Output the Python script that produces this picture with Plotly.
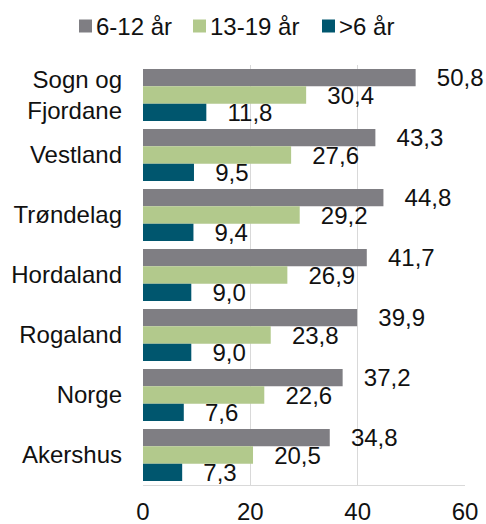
import plotly.graph_objects as go

categories = ["Sogn og<br>Fjordane", "Vestland", "Trøndelag", "Hordaland", "Rogaland", "Norge", "Akershus"]
series_names = ["6-12 år", "13-19 år", ">6 år"]
v_6_12 = [50.8, 43.3, 44.8, 41.7, 39.9, 37.2, 34.8]
v_13_19 = [30.4, 27.6, 29.2, 26.9, 23.8, 22.6, 20.5]
v_under6 = [11.8, 9.5, 9.4, 9.0, 9.0, 7.6, 7.3]
colors = ["#7f7e83", "#b2c98c", "#00566e"]
x_ticks = [0, 20, 40, 60]

FONT = "Liberation Sans, Arial, sans-serif"
FS = 24
W, H = 486, 524
ML, MR, MT, MB = 143, 21, 65, 39
PW, PH = W - ML - MR, H - MT - MB

def px2paper_x(px):
    return (px - ML) / PW

def px2paper_y(py):
    return (H - MB - py) / PH

fig = go.Figure()
for name, vals, col in zip(series_names, [v_6_12, v_13_19, v_under6], colors):
    fig.add_trace(go.Bar(
        y=categories, x=vals, name=name, orientation="h",
        marker=dict(color=col, line=dict(width=0)),
        text=vals, texttemplate="\u00a0\u00a0\u2009%{x:.1f}", textposition="outside",
        textfont=dict(size=FS, color="#111111", family=FONT),
        constraintext="none", cliponaxis=False, showlegend=False,
    ))

# Legend drawn manually (square swatch + label) to match compact spacing
legend_swatch_left = [79, 193, 322]
swatch = 13
legend_cy = 26
for name, col, sx in zip(series_names, colors, legend_swatch_left):
    fig.add_shape(type="rect", xref="paper", yref="paper",
                  x0=px2paper_x(sx), x1=px2paper_x(sx + swatch),
                  y0=px2paper_y(legend_cy + swatch / 2), y1=px2paper_y(legend_cy - swatch / 2),
                  fillcolor=col, line=dict(width=0))
    fig.add_annotation(xref="paper", yref="paper", x=px2paper_x(sx + swatch + 2),
                       y=px2paper_y(legend_cy), xanchor="left", yanchor="middle",
                       text=name, showarrow=False,
                       font=dict(size=FS, color="#111111", family=FONT))

fig.update_layout(
    width=W, height=H, barmode="group", bargap=0.13, bargroupgap=0,
    separators=",.",
    plot_bgcolor="white", paper_bgcolor="white",
    margin=dict(l=ML, r=MR, t=MT, b=MB, autoexpand=False),
    font=dict(family=FONT, size=FS, color="#111111"),
    showlegend=False,
    xaxis=dict(range=[0, 60], tickvals=x_ticks, showgrid=True, gridcolor="#d9d9d9",
               gridwidth=1, showline=True, linecolor="#d9d9d9", linewidth=1,
               zeroline=False, ticks="", ticklabelstandoff=5, automargin=False,
               tickfont=dict(size=FS)),
    yaxis=dict(autorange="reversed", showgrid=False, zeroline=False, ticks="",
               ticklabelstandoff=20, tickfont=dict(size=FS), showline=False,
               automargin=False),
)
fig.write_html(
    "out.html",
    config={"displayModeBar": False},
    post_script="document.body.style.margin='0';document.body.style.overflow='hidden';",
)
